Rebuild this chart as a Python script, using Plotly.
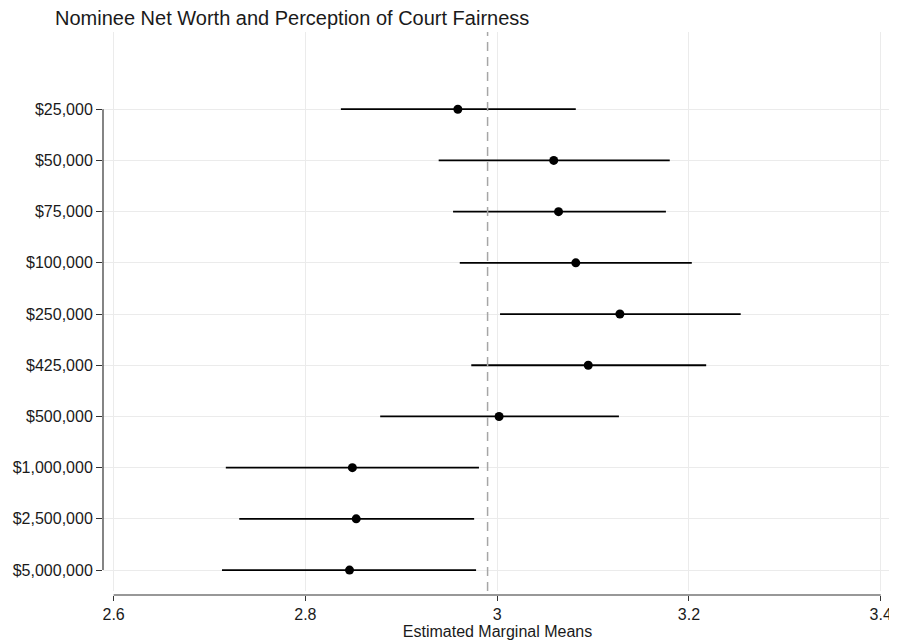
import plotly.graph_objects as go

categories = ["$25,000", "$50,000", "$75,000", "$100,000", "$250,000",
              "$425,000", "$500,000", "$1,000,000", "$2,500,000", "$5,000,000"]
means = [2.959, 3.059, 3.064, 3.082, 3.128, 3.095, 3.002, 2.849, 2.853, 2.846]
lower = [2.837, 2.939, 2.954, 2.961, 3.003, 2.973, 2.878, 2.717, 2.731, 2.713]
upper = [3.082, 3.180, 3.176, 3.203, 3.254, 3.218, 3.127, 2.981, 2.976, 2.978]
reference_mean = 2.990
x_ticks = [2.6, 2.8, 3.0, 3.2, 3.4]
x_tick_labels = ["2.6", "2.8", "3", "3.2", "3.4"]

FONT = "Liberation Sans, Arial, Helvetica, sans-serif"

# page body has an 8px default margin; figure sized to fit the window
W, H = 889, 633

err_plus = [u - m for u, m in zip(upper, means)]
err_minus = [m - l for m, l in zip(means, lower)]

fig = go.Figure()
fig.add_trace(go.Scatter(
    x=means, y=categories, mode="markers",
    marker=dict(color="black", size=9),
    error_x=dict(type="data", symmetric=False, array=err_plus,
                 arrayminus=err_minus, width=0, thickness=1.8, color="black"),
    showlegend=False, hoverinfo="skip",
))

# reference dashed line
fig.add_shape(type="line", xref="x", yref="y domain",
              x0=reference_mean, x1=reference_mean, y0=0, y1=1,
              line=dict(color="#a6a6a6", width=1.5, dash="9px,6px"))
# offset x axis line (2.6 to 3.4)
fig.add_shape(type="line", xref="x", yref="paper",
              x0=x_ticks[0], x1=x_ticks[-1], y0=0, y1=0,
              line=dict(color="#333333", width=1.2))
# y axis line spanning the categories
fig.add_shape(type="line", xref="paper", yref="y",
              x0=0, x1=0, y0=0, y1=len(categories) - 1,
              line=dict(color="#333333", width=1.2))

fig.update_layout(
    width=W, height=H,
    margin=dict(l=93, r=5, t=24, b=44),
    paper_bgcolor="white", plot_bgcolor="white",
    font=dict(family=FONT, color="#1a1a1a", size=16),
    title=dict(text="Nominee Net Worth and Perception of Court Fairness",
               x=47 / W, xanchor="left", xref="container",
               y=1 - 10 / H, yanchor="middle", yref="container",
               font=dict(size=20, family=FONT, color="#1a1a1a")),
    xaxis=dict(range=[2.5889, 3.4118], tickvals=x_ticks, ticktext=x_tick_labels,
               showgrid=True, gridcolor="#ebebeb", gridwidth=1,
               zeroline=False, showline=False,
               ticks="outside", ticklen=5, tickcolor="#333333", tickwidth=1.2,
               anchor="free", position=0,
               tickfont=dict(size=16, color="#1a1a1a"),
               title=dict(text="Estimated Marginal Means",
                          font=dict(size=16, color="#1a1a1a"), standoff=2)),
    yaxis=dict(type="category", categoryorder="array", categoryarray=categories,
               range=[9.409, -1.508], domain=[4 / 565, 1],
               showgrid=True, gridcolor="#ebebeb", gridwidth=1,
               zeroline=False, showline=False,
               ticks="outside", ticklen=6, tickcolor="#333333", tickwidth=1.2,
               tickfont=dict(size=16, color="#1a1a1a")),
)

fig.write_html("out.html")
